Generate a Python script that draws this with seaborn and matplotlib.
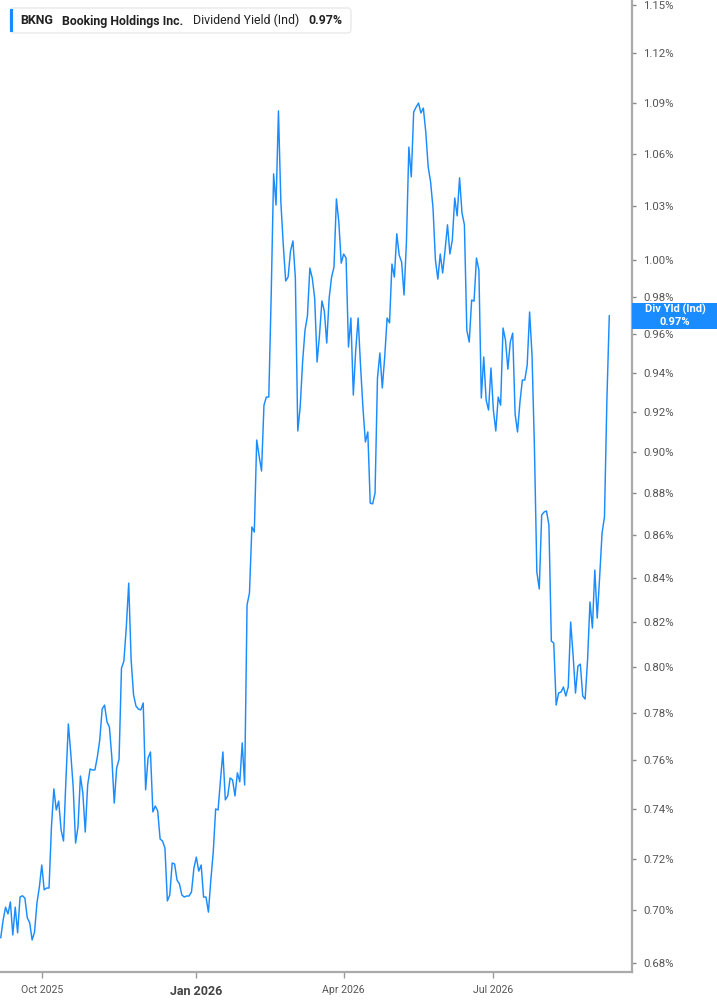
import numpy as np
import pandas as pd
import matplotlib
matplotlib.use("Agg")
import matplotlib.pyplot as plt
import matplotlib.ticker as mticker
from matplotlib.patches import Rectangle, FancyBboxPatch
import seaborn as sns

# ---------------- data ----------------
ticker = "BKNG"
company = "Booking Holdings Inc."
metric = "Dividend Yield (Ind)"
last_label = "0.97%"
box_label = "Div Yld (Ind)"

start_date = "2025-09-08"
holidays = ["2025-11-27", "2025-12-25", "2026-01-01", "2026-01-19", "2026-02-16",
            "2026-04-03", "2026-05-25", "2026-06-19", "2026-07-03", "2026-09-07"]

yield_pct = [
    0.6895, 0.6963, 0.7012, 0.6986, 0.7032, 0.6906, 0.7012, 0.6914, 0.7051, 0.7056,
    0.7047, 0.6971, 0.6952, 0.6887, 0.6917, 0.7028, 0.7090, 0.7176, 0.7079, 0.7086,
    0.7086,
    0.7328, 0.7482, 0.7396, 0.7432, 0.7315, 0.7271, 0.7519, 0.7753, 0.7630, 0.7490,
    0.7263, 0.7328, 0.7535, 0.7465, 0.7307, 0.7498, 0.7564, 0.7560, 0.7560, 0.7614,
    0.7685,
    0.7817, 0.7834, 0.7762, 0.7740, 0.7614, 0.7424, 0.7568, 0.7605, 0.7994, 0.8025,
    0.8176, 0.8376, 0.8030, 0.7878, 0.7830, 0.7817, 0.7813, 0.7843, 0.7478, 0.7609,
    0.7635,
    0.7388, 0.7412, 0.7392, 0.7279, 0.7271, 0.7243, 0.7036, 0.7059, 0.7184, 0.7180,
    0.7117, 0.7102, 0.7059, 0.7051, 0.7055, 0.7055, 0.7071, 0.7164, 0.7207, 0.7152,
    0.7176,
    0.7051, 0.7051, 0.6993, 0.7117, 0.7227, 0.7400, 0.7396, 0.7519, 0.7635, 0.7437,
    0.7453, 0.7527, 0.7519, 0.7453, 0.7548, 0.7511, 0.7673, 0.7498, 0.8276, 0.8331,
    0.8638, 0.8614, 0.9060, 0.8981, 0.8907, 0.9235, 0.9276, 0.9276, 0.9810, 1.0484,
    1.0306, 1.0852, 1.0323, 1.0083, 0.9886, 0.9907, 1.0050, 1.0105, 0.9902, 0.9105,
    0.9225,
    0.9456, 0.9623, 0.9698, 0.9956, 0.9902, 0.9794, 0.9456, 0.9597, 0.9778, 0.9724,
    0.9555, 0.9794, 0.9907, 0.9962, 1.0341, 1.0211, 0.9983, 1.0033, 1.0011, 0.9534,
    0.9687,
    0.9286, 0.9518, 0.9687, 0.9435, 0.9220, 0.9050, 0.9100, 0.8752, 0.8748, 0.8800,
    0.9373, 0.9503, 0.9322, 0.9482, 0.9687, 0.9661, 0.9978, 0.9907, 1.0145, 1.0027,
    0.9989,
    0.9810, 1.0100, 1.0639, 1.0467, 1.0846, 1.0875, 1.0899, 1.0840, 1.0869, 1.0728,
    1.0524, 1.0438, 1.0290, 1.0000, 0.9896, 1.0033, 0.9929, 1.0055, 1.0195, 1.0033,
    1.0111, 1.0346, 1.0245, 1.0461, 1.0262, 1.0195, 0.9623, 0.9560, 0.9783, 0.9777,
    1.0011, 0.9945, 0.9271, 0.9482, 0.9261, 0.9210, 0.9425, 0.9210, 0.9105, 0.9276,
    0.9235,
    0.9634, 0.9571, 0.9419, 0.9560, 0.9607, 0.9190, 0.9100, 0.9250, 0.9363, 0.9363,
    0.9440, 0.9719, 0.9492, 0.9020, 0.8427, 0.8349, 0.8695, 0.8709, 0.8714, 0.8647,
    0.8114,
    0.8105, 0.7834, 0.7886, 0.7890, 0.7912, 0.7873, 0.7912, 0.8199, 0.8052, 0.7886,
    0.8003, 0.8012, 0.7873, 0.7860, 0.8030, 0.8290, 0.8172, 0.8436, 0.8217, 0.8404,
    0.8609, 0.8685, 0.9261, 0.9700,
]

y_ticks = [0.68, 0.70, 0.72, 0.74, 0.76, 0.78, 0.80, 0.82, 0.84, 0.86, 0.88, 0.90,
           0.92, 0.94, 0.96, 0.98, 1.00, 1.03, 1.06, 1.09, 1.12, 1.15]
month_ticks = ["2025-10-01", "2026-01-01", "2026-04-01", "2026-07-01"]
month_labels = ["Oct 2025", "Jan 2026", "Apr 2026", "Jul 2026"]

# ---------------- frame ----------------
dates = pd.bdate_range(start_date, periods=len(yield_pct), freq="C", holidays=holidays)
df = pd.DataFrame({"idx": np.arange(len(yield_pct)), "date": dates, "yield": yield_pct})
tick_idx = [int(np.searchsorted(dates.values, np.datetime64(d))) for d in month_ticks]

sns.set_theme(style="white")
plt.rcParams["font.family"] = ["Roboto", "DejaVu Sans"]

W, H = 717, 1005
fig = plt.figure(figsize=(W / 100, H / 100), dpi=100)
ax = fig.add_axes([0, 33 / H, 632 / W, 1 - 33 / H])

LINE = "#1a8cff"
sns.lineplot(data=df, x="idx", y="yield", ax=ax, color=LINE, linewidth=1.05)

ax.set_yscale("log")
ax.set_ylim(0.6767, 1.1533)
ax.set_xlim(-0.3, 261.4)

ax.yaxis.set_major_locator(mticker.FixedLocator(y_ticks))
ax.yaxis.set_minor_locator(mticker.NullLocator())
ax.yaxis.set_major_formatter(mticker.FuncFormatter(lambda v, p: f"{v:.2f}%"))
ax.yaxis.tick_right()
ax.tick_params(axis="y", which="major", right=True, left=False, direction="out",
               length=3, width=1, color="#8a8a8a", labelsize=8.2, labelcolor="#555555", pad=5)

ax.set_xticks(tick_idx)
ax.set_xticklabels(month_labels)
ax.tick_params(axis="x", bottom=True, direction="out", length=4, width=1,
               color="#9a9a9a", labelsize=7.6, labelcolor="#555555", pad=5)
for lbl in ax.get_xticklabels():
    if lbl.get_text().startswith("Jan"):
        lbl.set_fontweight("bold")
        lbl.set_fontsize(9)
        lbl.set_color("#444444")

ax.set_xlabel("")
ax.set_ylabel("")
for side in ["top", "left"]:
    ax.spines[side].set_visible(False)
for side in ["right", "bottom"]:
    ax.spines[side].set_color("#aaaaaa")
    ax.spines[side].set_linewidth(1.6)
ax.grid(False)

# ---------------- header box ----------------
def fx(px):
    return px / W

def fy(py):
    return 1 - py / H

hdr = FancyBboxPatch((fx(10), fy(33)), fx(351) - fx(10), fy(8) - fy(33),
                     boxstyle="round,pad=0,rounding_size=0.004", transform=fig.transFigure,
                     facecolor="white", edgecolor="#e4e4e4", linewidth=0.8, zorder=5)
fig.patches.append(hdr)
bar = Rectangle((fx(10), fy(32)), fx(13) - fx(10), fy(9) - fy(32), transform=fig.transFigure,
                facecolor=LINE, edgecolor="none", zorder=6)
fig.patches.append(bar)

txt_kw = dict(transform=fig.transFigure, va="baseline", ha="left", fontsize=8.9,
              color="#222222", zorder=7)
fig.text(fx(20.5), fy(24.5), ticker, fontweight="bold", **txt_kw)
fig.text(fx(62), fy(24.5), company, fontweight="bold", **txt_kw)
fig.text(fx(193), fy(24.5), metric, **txt_kw)
fig.text(fx(308), fy(24.5), last_label, fontweight="bold", **txt_kw)

# ---------------- last value box ----------------
fig.canvas.draw()
ydisp = ax.transData.transform((0, yield_pct[-1]))[1]
yc = ydisp / H
bh = 26 / H
fig.patches.append(Rectangle((fx(632), yc - bh / 2), fx(717) - fx(632), bh,
                             transform=fig.transFigure, facecolor="#1a8cff",
                             edgecolor="none", zorder=8))
fig.text(fx(675), yc + 6 / H, box_label, transform=fig.transFigure, ha="center", va="center",
         fontsize=8, fontweight="bold", color="white", zorder=9)
fig.text(fx(675), yc - 6 / H, last_label, transform=fig.transFigure, ha="center", va="center",
         fontsize=8, fontweight="bold", color="white", zorder=9)

fig.savefig("out.png", dpi=100)
